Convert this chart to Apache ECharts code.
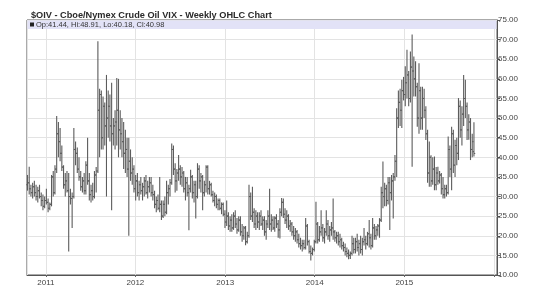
<!DOCTYPE html>
<html><head><meta charset="utf-8">
<script src="https://cdn.jsdelivr.net/npm/echarts@6/dist/echarts.min.js"></script>
<style>html,body{margin:0;padding:0;background:#fff}#c{width:540px;height:300px}</style>
</head><body><div id="c"></div>
<script>
const titleText = "$OIV - Cboe/Nymex Crude Oil VIX - Weekly OHLC Chart";
const firstWeek = "2010-10-18";
const yTicks = [10,15,20,25,30,35,40,45,50,55,60,65,70,75];
const yearLabels = ["2011","2012","2013","2014","2015"];
const opens = [33,33.5,32,31,32.5,31,30,31.5,30,29,27.5,29,28.5,27,28,35,31,37,46,44,41,37.5,33,34,31.5,30,29.5,30,42,41,37,35,32.5,34,31.5,38,34,30.5,31.5,30,35.5,36.5,52,56,45,53,48,50,53,48,46,48,49,52,47,46,44,41,42,37,39,36,37,32,34,31,33,31.5,32.5,34,31,32.5,33.5,31,30.5,28,29,27,28,25,28,26,31,32,33.5,42,37,34,36,37,35,36,32,33.5,31,32,35,31,33,30,37,34,35,31,33,37.5,32,33,30.5,29,30,28,29,27,28,25.5,23.5,25,22.5,24,22,25,23,21.5,24,21,20,22,18.5,20,30,25,26,23,25,23.5,25,23,24,21,23,25,23,24,22,24.5,23,21.5,26,28.5,25.5,24,25,22.5,23,21,20,21,19,18,17.5,18,17,22.5,18.5,16,15.5,16.5,18.5,23,19,21,22,19.5,21,23,20,21.5,22,21,19.5,20,18.5,19,17.5,17,16,15.5,15,15.5,18,16.5,18.5,17,18,16.5,18.5,19,18,20.5,19.5,17.5,22,20,21.5,22.5,24,31,30,32,29,33.5,31,34,35,39,50,54,52,57,56,59,61,55,63,62,60,58,50,57,50,55,52,46,36,40,34,37,33,36,34,35.5,32,30.5,32,31,42,37,46,38,43,41,53,47,51,55,53,47,49,42,41.44];
const highs = [35.5,37.6,33,33.5,34,33,32.5,33,31,30.5,30,32,29.5,28.5,35.5,36.5,38,50.5,49,47.5,43,38,36,36.5,36,32,31,47.5,44,42.5,40,36.5,35,36,39,45,36,33,33.5,36.5,37.5,69.6,57.5,57,55.5,54,61,57,56,59,50,52,60.2,60,52,50,49,47,45,45,42,40,38,35.5,36,34,35,33.5,35,35.5,34,35,35,33,31.5,30,30.5,35,29,29,30,34,33,34.5,43.5,43,38.5,37,40.6,38,37.5,36.5,35,35,33,36.8,35.5,34,34,38.5,38,36,35.5,34,38,38,34,33.5,31.5,31,30.5,29.5,29.5,28.5,28.5,26.5,29,26,25,25.5,26,26.5,24.5,25,25,23,22.5,22.5,21,33,31,32.5,27,26.5,26,26,26.5,25,25,24,26.5,32,25.5,25,25,25.5,24,27,29.6,29.5,27,26.5,25.5,24,23.5,22.5,22,21.5,20.5,19.5,19,19,24.5,23,19,17.5,17,19,28.7,23.5,22.5,26.5,23,22,26.5,24,22.5,23.5,29.5,21.5,21,21,20.5,19.5,18.5,18,17,16.5,16,20,19.5,19.5,20.5,19,20,19.5,22,20,21,24,20.5,24.5,23,22.5,23,24.5,32.5,38.9,33.5,33,35,35,35.5,36,40.6,52.5,57,57.5,59.8,60.5,63.2,67.4,62,67,71.3,65.7,64.5,59,64,58,58,57.5,53,47,44,40.5,40,40.2,37.5,37.6,36.5,36,35,33,33,45.3,43,47.8,47,44.5,45,55.1,54.5,53,61,59.8,54,51,50,46,48.91];
const lows = [31.5,30.5,30,29.5,30,29,28.5,29.5,27.5,26.5,27,28,26,26.5,27.5,30,30.5,36,40,39,36.5,32,30,31,16,28,22,29.5,38,36,34,31.5,31,30.5,30.5,33,29,28.5,29,29.5,31,36,40,42,42,43,30,45,44,26.5,43,42,43,40,42,40,37,36,35,20,34,33,31,29,30,29,30.5,29,30,30.5,29.5,31,30,29,27,26,26.5,26,24,24.5,25,25.5,28,30,33,35.5,31,31.5,34,33,32.5,31,29,30,21.4,31,29.5,28.5,24.4,29.5,32,31,26.5,30,31,30.5,30.5,30,28.5,27.5,27,26.5,26.5,25.5,25,22,22.5,21.5,21,21,21.5,22,20.5,21,20,18.5,19,17.6,18,19.5,24,23.5,22,21.5,22,21.5,22.5,21.5,20,19,22,21.5,21,21.5,21,22,19.5,19.3,25,24.5,23,22,21.5,21,20,19,18.5,18,17,16.5,16,16.5,16.5,17.5,15.5,13.7,15,16,18,18,18.5,20,18.5,18,20,19,18.5,20,19,18.5,18,17.5,17,16.5,16,15,14.5,14,14.1,15,15.5,15.5,16,15,15.5,15,17.5,16.5,17.5,17,16.5,17,19,19,20,19.5,23.5,27,27.5,27.5,28,21.5,29,24.4,34,35,47.5,48,47.5,54.5,53,55,53,54,37.6,55.5,55.5,47.8,46,47,47,50,44.4,33.5,32.5,32.5,33,31.6,31.6,33,33.3,30.5,29.5,29.5,30,30.5,35,31.6,36,35,38,39.3,45,43,48,50,44.4,44.5,39.3,40,40.18];
const closes = [33.5,32,31,32.5,31,30,31.5,30,29,27.5,29,28.5,27,28,35,31,37,46,44,41,37.5,33,34,31.5,30,29.5,30,42,41,37,35,32.5,34,31.5,38,34,30.5,31.5,30,35.5,36.5,52,56,45,53,48,50,53,48,46,48,49,52,47,46,44,41,42,37,39,36,37,32,34,31,33,31.5,32.5,34,31,32.5,33.5,31,30.5,28,29,27,28,25,28,26,31,32,33.5,42,37,34,36,37,35,36,32,33.5,31,32,35,31,33,30,37,34,35,31,33,37.5,32,33,30.5,29,30,28,29,27,28,25.5,23.5,25,22.5,24,22,25,23,21.5,24,21,20,22,18.5,20,30,25,26,23,25,23.5,25,23,24,21,23,25,23,24,22,24.5,23,21.5,26,28.5,25.5,24,25,22.5,23,21,20,21,19,18,17.5,18,17,22.5,18.5,16,15.5,16.5,18.5,23,19,21,22,19.5,21,23,20,21.5,22,21,19.5,20,18.5,19,17.5,17,16,15.5,15,15.5,18,16.5,18.5,17,18,16.5,18.5,19,18,20.5,19.5,17.5,22,20,21.5,22.5,24,31,30,32,29,33.5,31,34,35,39,50,54,52,57,56,59,61,55,63,62,60,58,50,57,50,55,52,46,36,40,34,37,33,36,34,35.5,32,30.5,32,31,42,37,46,38,43,41,53,47,51,55,53,47,49,42,44,40.98];

const DAY = 86400000;
const start = Date.UTC(2010, 9, 18);
const rows = opens.map((o, i) => [start + i * 7 * DAY, o, highs[i], lows[i], closes[i]]);
const last = opens.length - 1;

const chart = echarts.init(document.getElementById('c'), null, {renderer: 'canvas'});
const BAR = '#5c5c5c';
const FONT = 'Liberation Sans, Arial, sans-serif';
chart.setOption({
  animation: false,
  backgroundColor: '#fff',
  title: {
    text: titleText, left: 26, top: 6,
    textStyle: {fontFamily: FONT, fontSize: 9.2, fontWeight: 'bold', color: '#2a2a2a'}
  },
  grid: {left: 27, right: 43, top: 20, bottom: 25, show: true, borderColor: '#555', borderWidth: 1, backgroundColor: '#fff'},
  graphic: [
    {type: 'rect', left: 27.5, top: 20.5, shape: {width: 469, height: 8.5}, style: {fill: '#e2e2f7'}, z: 1},
    {type: 'rect', left: 30, top: 22.5, shape: {width: 4, height: 4}, style: {fill: '#222'}, z: 10},
    {type: 'text', left: 36, top: 21.2, z: 10,
      style: {text: 'Op:' + opens[last].toFixed(2) + ', Hi:' + highs[last].toFixed(2) + ', Lo:' + lows[last].toFixed(2) + ', Cl:' + closes[last].toFixed(2),
        font: '7.5px "Liberation Sans", Arial, sans-serif', fill: '#333'}}
  ],
  xAxis: {
    type: 'time',
    min: Date.UTC(2010, 9, 16), max: Date.UTC(2016, 0, 14),
    splitNumber: 5, minInterval: 300 * DAY,
    axisLine: {show: true, lineStyle: {color: '#555'}},
    axisTick: {show: true, length: 2, lineStyle: {color: '#666'}},
    splitLine: {show: true, lineStyle: {color: '#e3e3e3', width: 1}},
    axisLabel: {
      color: '#444', fontSize: 8, fontFamily: FONT, margin: 4,
      showMinLabel: false, showMaxLabel: false,
      formatter: v => { const y = String(new Date(v).getUTCFullYear()); return yearLabels.includes(y) ? y : ''; }
    }
  },
  yAxis: {
    type: 'value', position: 'right', min: yTicks[0], max: yTicks[yTicks.length - 1], interval: 5,
    axisLine: {show: true, lineStyle: {color: '#555'}},
    axisTick: {show: true, length: 3, inside: false, lineStyle: {color: '#555'}},
    splitLine: {show: true, lineStyle: {color: '#e3e3e3', width: 1}},
    axisLabel: {color: '#444', fontSize: 8, fontFamily: FONT, margin: 1,
      formatter: v => v.toFixed(2)}
  },
  series: [{
    type: 'custom',
    data: rows,
    encode: {x: 0, y: [1, 2, 3, 4]},
    z: 5,
    renderItem: function (params, api) {
      const t = api.value(0);
      const po = api.coord([t, api.value(1)]);
      const ph = api.coord([t, api.value(2)]);
      const pl = api.coord([t, api.value(3)]);
      const pc = api.coord([t, api.value(4)]);
      const xc = po[0];
      const st = {stroke: BAR, lineWidth: 1.1};
      return {type: 'group', children: [
        {type: 'line', shape: {x1: xc, y1: ph[1], x2: xc, y2: pl[1]}, style: st},
        {type: 'line', shape: {x1: xc - 1.3, y1: po[1], x2: xc, y2: po[1]}, style: st},
        {type: 'line', shape: {x1: xc, y1: pc[1], x2: xc + 1.3, y2: pc[1]}, style: st}
      ]};
    },
    markLine: {
      silent: true, symbol: ['none', 'none'], animation: false,
      lineStyle: {opacity: 0},
      label: {show: true, position: 'end', distance: 2, formatter: closes[last].toFixed(2),
        backgroundColor: '#111', color: '#fff', fontSize: 8, padding: [1, 1, 0, 1], fontFamily: FONT},
      data: [{yAxis: closes[last]}]
    }
  }]
});
</script></body></html>
